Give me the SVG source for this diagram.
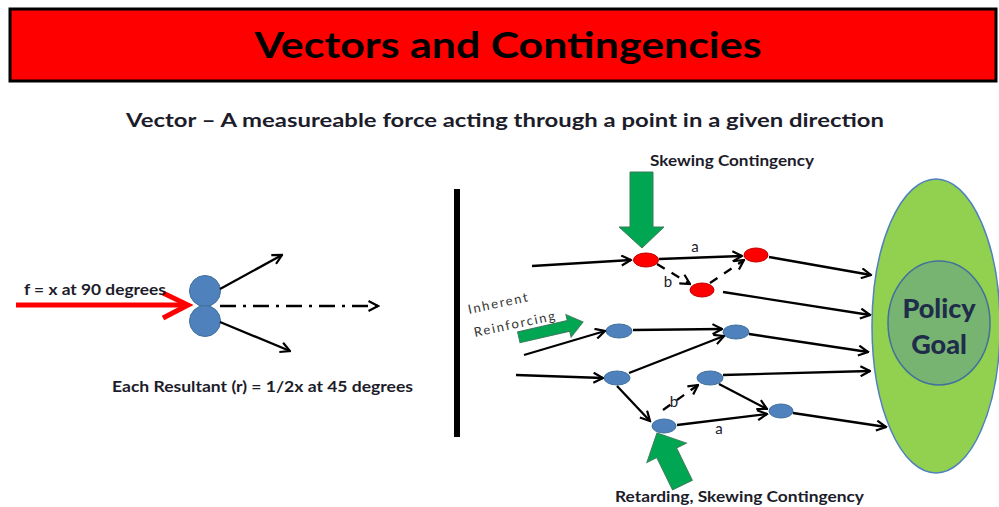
<svg xmlns="http://www.w3.org/2000/svg" width="999" height="507" viewBox="0 0 999 507">
<defs>
<style>
.t{font-family:Lato,"Open Sans","Liberation Sans",sans-serif;fill:#1c1c2a}
.b{font-weight:bold}
.c{stroke:#000;stroke-width:2.3;fill:none;marker-end:url(#ah)}
.d{stroke-dasharray:9 8}
.bn{fill:#4F81BD;stroke:#41719C;stroke-width:1}
.rn{fill:#FF0000;stroke:#C00000;stroke-width:1}
.ga{fill:#00A651;stroke:#3B7D5B;stroke-width:1}
</style>
<marker id="ah" viewBox="0 0 12 12" refX="10.5" refY="6" markerWidth="12" markerHeight="12" markerUnits="userSpaceOnUse" orient="auto">
<path d="M1,1 L10.5,6 L1,11" fill="none" stroke="#000" stroke-width="2.2" stroke-linejoin="miter"/>
</marker>
</defs>
<rect width="999" height="507" fill="#fff"/>

<g id="title">
<rect x="10" y="9" width="986" height="72" fill="#FF0000" stroke="#000" stroke-width="3"/>
<text class="t b" x="508" y="58" font-size="36" text-anchor="middle" textLength="507" lengthAdjust="spacingAndGlyphs" style="fill:#000">Vectors and Contingencies</text>
</g>
<text class="t b" x="126" y="127" font-size="18" textLength="758" lengthAdjust="spacingAndGlyphs">Vector – A measureable force acting through a point in a given direction</text>

<g id="left-diagram">
<g id="force">
<line x1="16" y1="305" x2="186" y2="305" stroke="#FF0000" stroke-width="5"/>
<polyline points="163,293 188,305 163,318" fill="none" stroke="#FF0000" stroke-width="5"/>
<text class="t b" x="24" y="295" font-size="15" textLength="142" lengthAdjust="spacingAndGlyphs">f = x at 90 degrees</text>
</g>
<circle id="ball-top" class="bn" cx="205" cy="291" r="15.5"/>
<circle id="ball-bottom" class="bn" cx="205" cy="321" r="15.5"/>
<g id="resultants">
<line class="c" x1="220" y1="289" x2="282" y2="255"/>
<line class="c" x1="220" y1="322" x2="290" y2="351"/>
<line class="c" x1="220" y1="306" x2="378" y2="306" stroke-dasharray="16 7 3 7"/>
</g>
<text class="t b" x="112" y="392" font-size="15" textLength="301" lengthAdjust="spacingAndGlyphs">Each Resultant (r) = 1/2x at 45 degrees</text>
</g>

<line id="divider" x1="457" y1="189" x2="457" y2="437" stroke="#000" stroke-width="6"/>

<g id="goal">
<ellipse cx="936" cy="326" rx="64" ry="147" fill="#92D050" stroke="#4F81BD" stroke-width="1.5"/>
<ellipse cx="939" cy="323" rx="51" ry="62" fill="#77B472" stroke="#41719C" stroke-width="1.5"/>
<text class="t" x="939" y="318" font-size="27" font-weight="900" text-anchor="middle" style="fill:#1F2D4A">Policy</text>
<text class="t" x="939" y="354" font-size="27" font-weight="900" text-anchor="middle" style="fill:#1F2D4A">Goal</text>
</g>

<g id="skewing-contingency">
<text class="t b" x="650" y="166" font-size="15" textLength="164" lengthAdjust="spacingAndGlyphs">Skewing Contingency</text>
<polygon class="ga" points="630,172 653,172 653,227 664,227 642,248 619,227 630,227"/>
</g>

<g id="inherent-reinforcing">
<text class="t" font-size="13" letter-spacing="1.8" transform="translate(469,314) rotate(-12)" style="fill:#333">Inherent</text>
<text class="t" font-size="13" letter-spacing="1.8" transform="translate(475,337) rotate(-12)" style="fill:#333">Reinforcing</text>
<polygon class="ga" transform="translate(583,322) rotate(-13)" points="0,0 -15,-11 -15,-5 -66,-5 -66,6 -15,6 -15,12"/>
</g>

<g id="retarding-contingency">
<polygon class="ga" transform="translate(657,433) rotate(-26)" points="0,0 22,22 11,22 11,58 -11,58 -11,22 -22,22"/>
<text class="t b" x="615" y="502" font-size="15" textLength="249" lengthAdjust="spacingAndGlyphs">Retarding, Skewing Contingency</text>
</g>

<g id="nodes">
<ellipse id="r1" class="rn" cx="646" cy="260" rx="12.5" ry="7"/>
<ellipse id="r2" class="rn" cx="756" cy="255" rx="12" ry="7"/>
<ellipse id="r3" class="rn" cx="702" cy="290" rx="12" ry="7"/>
<ellipse id="n1" class="bn" cx="619" cy="331" rx="13" ry="7"/>
<ellipse id="n2" class="bn" cx="736" cy="332" rx="13" ry="7"/>
<ellipse id="n3" class="bn" cx="617" cy="378" rx="13" ry="7"/>
<ellipse id="n4" class="bn" cx="710" cy="378" rx="13" ry="7"/>
<ellipse id="n5" class="bn" cx="781" cy="411" rx="12" ry="7"/>
<ellipse id="n6" class="bn" cx="664" cy="426" rx="12" ry="7"/>
</g>

<g id="connectors">
<line class="c" x1="532" y1="266" x2="631" y2="260"/>
<line class="c" x1="659" y1="259" x2="742" y2="256"/>
<line class="c d" x1="657" y1="264" x2="690" y2="284"/>
<line class="c d" x1="710" y1="283" x2="744" y2="260"/>
<line class="c" x1="769" y1="257" x2="871" y2="275"/>
<line class="c" x1="723" y1="292" x2="870" y2="315"/>
<line class="c" x1="524" y1="355" x2="605" y2="331"/>
<line class="c" x1="633" y1="330" x2="722" y2="329"/>
<line class="c" x1="749" y1="334" x2="868" y2="352"/>
<line class="c" x1="516" y1="375" x2="603" y2="378"/>
<line class="c" x1="629" y1="373" x2="724" y2="336"/>
<line class="c" x1="617" y1="386" x2="650" y2="421"/>
<line class="c d" x1="663" y1="410" x2="698" y2="385"/>
<line class="c" x1="723" y1="375" x2="870" y2="371"/>
<line class="c" x1="719" y1="384" x2="767" y2="409"/>
<line class="c" x1="677" y1="425" x2="767" y2="414"/>
<line class="c" x1="793" y1="413" x2="886" y2="427"/>
</g>

<g id="labels">
<text class="t" x="695" y="252" font-size="15" text-anchor="middle">a</text>
<text class="t" x="668" y="287" font-size="15" text-anchor="middle">b</text>
<text class="t" x="674" y="407" font-size="15" text-anchor="middle">b</text>
<text class="t" x="719" y="434" font-size="15" text-anchor="middle">a</text>
</g>
</svg>
